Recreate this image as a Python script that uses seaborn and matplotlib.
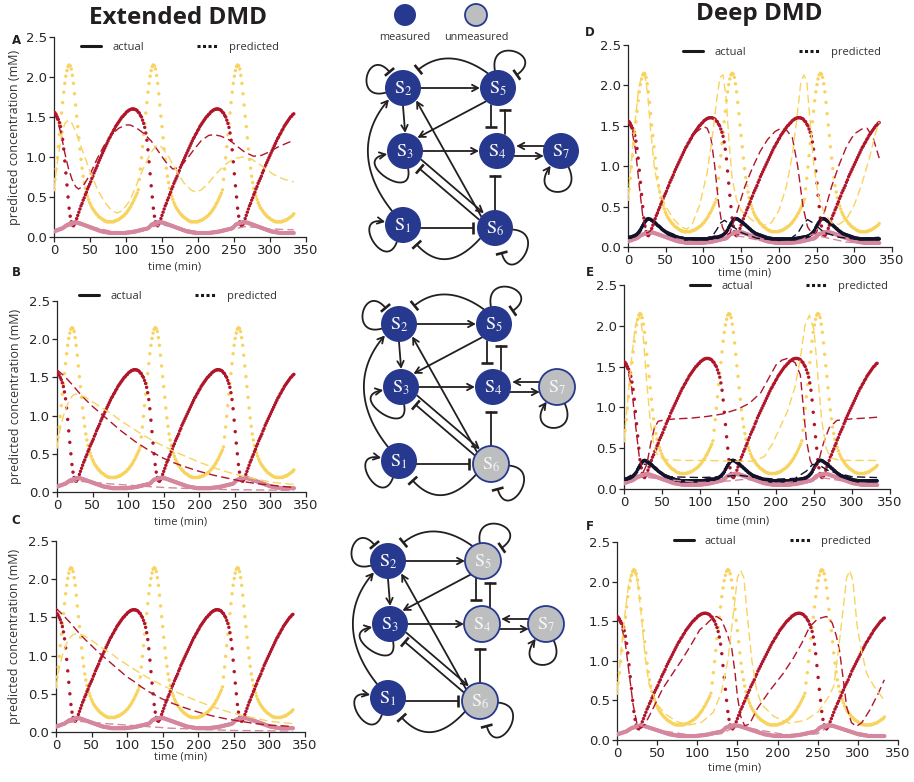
import numpy as np
import seaborn as sns
import matplotlib.pyplot as plt
from matplotlib.lines import Line2D
from matplotlib.patches import Circle

time = np.arange(0, 334.5, 1.5)

red_c1 = [1.56, 1.55, 1.53, 1.50, 1.47, 1.43, 1.38, 1.31, 1.22, 1.10,
          0.95, 0.80, 0.65, 0.50, 0.36, 0.26, 0.19, 0.15, 0.14, 0.16,
          0.19, 0.23, 0.27, 0.31, 0.35, 0.39, 0.42, 0.46, 0.49, 0.53,
          0.56, 0.60, 0.63, 0.66, 0.69, 0.73, 0.76, 0.80, 0.83, 0.86,
          0.89, 0.93, 0.96, 0.99, 1.02, 1.05, 1.08, 1.11, 1.14, 1.17,
          1.20, 1.23, 1.25, 1.28, 1.30, 1.33, 1.35, 1.38, 1.40, 1.42,
          1.44, 1.46, 1.48, 1.50, 1.51, 1.53, 1.54, 1.56, 1.57, 1.58,
          1.59, 1.595, 1.60, 1.60, 1.60, 1.595, 1.59, 1.58]
red_c2 = [1.56, 1.55, 1.52, 1.50, 1.46, 1.42, 1.37, 1.30, 1.21, 1.09,
          0.94, 0.79, 0.64, 0.50, 0.36, 0.26, 0.19, 0.15, 0.14, 0.16,
          0.19, 0.23, 0.27, 0.31, 0.35, 0.39, 0.42, 0.46, 0.49, 0.53,
          0.56, 0.60, 0.63, 0.67, 0.70, 0.73, 0.76, 0.80, 0.83, 0.87,
          0.90, 0.93, 0.96, 0.99, 1.02, 1.05, 1.08, 1.11, 1.14, 1.17,
          1.20, 1.23, 1.25, 1.28, 1.30, 1.33, 1.35, 1.38, 1.40, 1.42,
          1.44, 1.46, 1.48, 1.50, 1.51, 1.53, 1.54, 1.56, 1.57, 1.58,
          1.59, 1.595, 1.60, 1.60, 1.60, 1.595, 1.59, 1.58]
red_c3 = [1.56, 1.55, 1.52, 1.50, 1.46, 1.42, 1.37, 1.30, 1.21, 1.09,
          0.94, 0.79, 0.64, 0.50, 0.36, 0.26, 0.19, 0.15, 0.14, 0.16,
          0.19, 0.23, 0.27, 0.31, 0.35, 0.39, 0.42, 0.46, 0.49, 0.53,
          0.56, 0.60, 0.63, 0.67, 0.70, 0.73, 0.76, 0.80, 0.83, 0.87,
          0.90, 0.93, 0.96, 0.99, 1.02, 1.05, 1.08, 1.11, 1.14, 1.17,
          1.20, 1.23, 1.25, 1.28, 1.30, 1.33, 1.35, 1.38, 1.40, 1.42,
          1.44, 1.46, 1.48, 1.50, 1.51, 1.53, 1.54]

yellow_c1 = [0.59, 0.72, 0.85, 0.99, 1.13, 1.28, 1.42, 1.55, 1.68, 1.81,
             1.92, 2.01, 2.08, 2.13, 2.15, 2.14, 2.10, 2.02, 1.92, 1.79,
             1.65, 1.51, 1.38, 1.24, 1.10, 0.97, 0.86, 0.76, 0.68, 0.61,
             0.55, 0.51, 0.47, 0.43, 0.40, 0.37, 0.35, 0.33, 0.31, 0.29,
             0.28, 0.26, 0.25, 0.24, 0.23, 0.22, 0.21, 0.20, 0.20, 0.19,
             0.19, 0.19, 0.19, 0.19, 0.19, 0.19, 0.20, 0.20, 0.21, 0.21,
             0.22, 0.23, 0.24, 0.25, 0.26, 0.27, 0.29, 0.30, 0.32, 0.34,
             0.36, 0.38, 0.41, 0.43, 0.46, 0.49, 0.52, 0.55]
yellow_c2 = [0.59, 0.72, 0.85, 0.99, 1.13, 1.28, 1.42, 1.55, 1.68, 1.81,
             1.92, 2.01, 2.08, 2.13, 2.15, 2.14, 2.10, 2.02, 1.92, 1.79,
             1.65, 1.51, 1.38, 1.24, 1.10, 0.97, 0.86, 0.76, 0.68, 0.61,
             0.55, 0.51, 0.47, 0.43, 0.40, 0.37, 0.35, 0.33, 0.31, 0.29,
             0.28, 0.26, 0.25, 0.24, 0.23, 0.22, 0.21, 0.20, 0.20, 0.19,
             0.19, 0.19, 0.19, 0.19, 0.19, 0.19, 0.20, 0.20, 0.21, 0.21,
             0.22, 0.23, 0.24, 0.25, 0.26, 0.27, 0.29, 0.30, 0.32, 0.34,
             0.36, 0.38, 0.41, 0.43, 0.46, 0.49, 0.52, 0.55]
yellow_c3 = [0.59, 0.72, 0.85, 0.99, 1.13, 1.28, 1.42, 1.55, 1.68, 1.81,
             1.92, 2.01, 2.08, 2.13, 2.15, 2.14, 2.10, 2.02, 1.92, 1.79,
             1.65, 1.51, 1.38, 1.24, 1.10, 0.97, 0.86, 0.76, 0.68, 0.61,
             0.55, 0.51, 0.47, 0.43, 0.40, 0.37, 0.35, 0.33, 0.31, 0.29,
             0.28, 0.26, 0.25, 0.24, 0.23, 0.22, 0.21, 0.20, 0.20, 0.19,
             0.19, 0.19, 0.19, 0.19, 0.19, 0.19, 0.20, 0.20, 0.21, 0.21,
             0.22, 0.23, 0.24, 0.25, 0.26, 0.27, 0.29]

pink_c1 = [0.070, 0.075, 0.080, 0.085, 0.090, 0.095, 0.100, 0.105, 0.110, 0.120,
           0.130, 0.140, 0.150, 0.155, 0.160, 0.165, 0.170, 0.175, 0.180, 0.180,
           0.180, 0.180, 0.180, 0.175, 0.170, 0.165, 0.160, 0.155, 0.150, 0.145,
           0.140, 0.135, 0.130, 0.125, 0.120, 0.115, 0.110, 0.105, 0.100, 0.095,
           0.090, 0.085, 0.080, 0.075, 0.070, 0.070, 0.065, 0.065, 0.060, 0.060,
           0.055, 0.055, 0.050, 0.050, 0.050, 0.050, 0.050, 0.050, 0.050, 0.050,
           0.050, 0.050, 0.050, 0.050, 0.050, 0.050, 0.050, 0.055, 0.055, 0.055,
           0.060, 0.060, 0.060, 0.065, 0.065, 0.070, 0.070, 0.075]
pink_c2 = [0.080, 0.080, 0.085, 0.090, 0.090, 0.095, 0.100, 0.100, 0.105, 0.110,
           0.120, 0.135, 0.150, 0.160, 0.165, 0.170, 0.175, 0.180, 0.180, 0.185,
           0.185, 0.185, 0.180, 0.180, 0.175, 0.170, 0.165, 0.160, 0.155, 0.150,
           0.145, 0.140, 0.135, 0.130, 0.125, 0.120, 0.115, 0.110, 0.105, 0.100,
           0.095, 0.090, 0.085, 0.080, 0.075, 0.070, 0.070, 0.065, 0.065, 0.060,
           0.060, 0.055, 0.055, 0.050, 0.050, 0.050, 0.050, 0.050, 0.050, 0.050,
           0.050, 0.050, 0.050, 0.050, 0.050, 0.050, 0.050, 0.055, 0.055, 0.055,
           0.060, 0.060, 0.060, 0.065, 0.065, 0.070, 0.070, 0.075]
pink_c3 = [0.080, 0.080, 0.085, 0.090, 0.090, 0.095, 0.100, 0.100, 0.105, 0.110,
           0.120, 0.135, 0.150, 0.160, 0.165, 0.170, 0.175, 0.180, 0.180, 0.185,
           0.185, 0.185, 0.180, 0.180, 0.175, 0.170, 0.165, 0.160, 0.155, 0.150,
           0.145, 0.140, 0.135, 0.130, 0.125, 0.120, 0.115, 0.110, 0.105, 0.100,
           0.095, 0.090, 0.085, 0.080, 0.075, 0.070, 0.070, 0.065, 0.065, 0.060,
           0.060, 0.055, 0.055, 0.050, 0.050, 0.050, 0.050, 0.050, 0.050, 0.050,
           0.050, 0.050, 0.050, 0.050, 0.050, 0.050, 0.050]

black_c1 = [0.120, 0.120, 0.120, 0.125, 0.130, 0.135, 0.140, 0.150, 0.160, 0.175,
            0.190, 0.210, 0.240, 0.265, 0.290, 0.310, 0.330, 0.345, 0.350, 0.345,
            0.340, 0.330, 0.320, 0.310, 0.300, 0.285, 0.270, 0.260, 0.250, 0.235,
            0.220, 0.210, 0.200, 0.190, 0.180, 0.170, 0.160, 0.155, 0.150, 0.145,
            0.140, 0.135, 0.130, 0.125, 0.120, 0.115, 0.110, 0.110, 0.110, 0.105,
            0.100, 0.100, 0.100, 0.100, 0.100, 0.100, 0.100, 0.100, 0.100, 0.100,
            0.100, 0.100, 0.100, 0.100, 0.100, 0.100, 0.100, 0.100, 0.100, 0.100,
            0.100, 0.105, 0.110, 0.110, 0.110, 0.115, 0.120, 0.120]
black_c2 = [0.120, 0.120, 0.125, 0.130, 0.135, 0.140, 0.150, 0.160, 0.175, 0.190,
            0.210, 0.240, 0.265, 0.290, 0.310, 0.330, 0.345, 0.350, 0.350, 0.345,
            0.335, 0.325, 0.315, 0.305, 0.295, 0.280, 0.270, 0.255, 0.245, 0.230,
            0.220, 0.205, 0.195, 0.185, 0.175, 0.165, 0.160, 0.155, 0.150, 0.145,
            0.140, 0.135, 0.130, 0.125, 0.120, 0.115, 0.110, 0.110, 0.105, 0.105,
            0.100, 0.100, 0.100, 0.100, 0.100, 0.100, 0.100, 0.100, 0.100, 0.100,
            0.100, 0.100, 0.100, 0.100, 0.100, 0.100, 0.100, 0.100, 0.100, 0.100,
            0.105, 0.105, 0.110, 0.110, 0.115, 0.115, 0.120, 0.120]
black_c3 = [0.125, 0.125, 0.130, 0.135, 0.140, 0.150, 0.160, 0.175, 0.190, 0.210,
            0.240, 0.265, 0.290, 0.310, 0.330, 0.345, 0.350, 0.350, 0.345, 0.335,
            0.325, 0.315, 0.305, 0.295, 0.280, 0.270, 0.255, 0.245, 0.230, 0.220,
            0.205, 0.195, 0.185, 0.175, 0.165, 0.160, 0.155, 0.150, 0.145, 0.140,
            0.135, 0.130, 0.125, 0.120, 0.115, 0.110, 0.110, 0.105, 0.105, 0.100,
            0.100, 0.100, 0.100, 0.100, 0.100, 0.100, 0.100, 0.100, 0.100, 0.100,
            0.100, 0.100, 0.100, 0.100, 0.100, 0.100, 0.100]

red_actual = red_c1 + red_c2 + red_c3
yellow_actual = yellow_c1 + yellow_c2 + yellow_c3
pink_actual = pink_c1 + pink_c2 + pink_c3
black_actual = black_c1 + black_c2 + black_c3

# ---- predicted trajectories, Extended DMD ----
a_red_t = [0, 5, 10, 15, 20, 25, 30, 34, 40, 50, 60, 70, 80, 90, 100, 106, 115, 124, 135, 145,
           155, 165, 175, 185, 195, 205, 215, 222, 232, 244, 255, 265, 277, 288, 298, 310, 320, 333]
a_red = [1.55, 1.45, 1.28, 1.05, 0.86, 0.72, 0.63, 0.60, 0.63, 0.78, 0.98, 1.15, 1.28, 1.36, 1.40, 1.40,
         1.36, 1.30, 1.20, 1.07, 0.94, 0.85, 0.87, 0.98, 1.10, 1.21, 1.27, 1.28, 1.26, 1.21,
         1.13, 1.06, 1.01, 1.02, 1.06, 1.12, 1.16, 1.21]
a_yel_t = [0, 5, 10, 15, 20, 25, 30, 40, 50, 60, 70, 80, 88, 95, 105, 115, 125, 135, 143, 150,
           160, 170, 180, 190, 197, 205, 215, 225, 240, 250, 262, 275, 290, 305, 320, 333]
a_yel = [0.60, 0.95, 1.25, 1.42, 1.46, 1.42, 1.32, 1.07, 0.82, 0.60, 0.44, 0.33, 0.30, 0.33, 0.45, 0.66,
         0.88, 1.06, 1.15, 1.12, 0.99, 0.83, 0.68, 0.59, 0.56, 0.59, 0.68, 0.79, 0.92, 0.98,
         1.00, 0.97, 0.88, 0.78, 0.72, 0.69]
a_pink_t = [0, 15, 30, 45, 60, 80, 100, 120, 135, 150, 170, 190, 210, 230, 250, 265, 280, 300, 333]
a_pink = [0.07, 0.12, 0.16, 0.14, 0.11, 0.07, 0.06, 0.08, 0.13, 0.15, 0.12, 0.08, 0.06, 0.07,
          0.10, 0.13, 0.12, 0.10, 0.09]

b_red_t = [0, 10, 20, 30, 40, 50, 60, 70, 80, 90, 100, 110, 120, 130, 140, 150,
           165, 180, 200, 220, 240, 260, 280, 300, 320, 333]
b_red = [1.60, 1.52, 1.42, 1.31, 1.21, 1.12, 1.04, 0.96, 0.88, 0.80, 0.73, 0.66, 0.60, 0.54, 0.49, 0.44,
         0.38, 0.33, 0.27, 0.22, 0.18, 0.14, 0.11, 0.09, 0.07, 0.06]
b_yel_t = [0, 5, 10, 15, 20, 25, 30, 40, 50, 60, 70, 80, 90, 100, 110, 120, 135, 150, 165, 180,
           200, 220, 240, 260, 280, 300, 320, 333]
b_yel = [0.60, 0.85, 1.03, 1.15, 1.24, 1.28, 1.28, 1.24, 1.18, 1.12, 1.06, 1.00, 0.93, 0.87, 0.81, 0.75,
         0.67, 0.60, 0.53, 0.47, 0.39, 0.32, 0.26, 0.21, 0.17, 0.13, 0.11, 0.10]
b_pink_t = [0, 15, 30, 45, 70, 100, 130, 160, 200, 250, 300, 333]
b_pink = [0.07, 0.12, 0.14, 0.13, 0.11, 0.09, 0.07, 0.055, 0.04, 0.03, 0.025, 0.02]

c_red = [1.62, 1.53, 1.43, 1.32, 1.22, 1.13, 1.04, 0.96, 0.88, 0.80, 0.72, 0.66, 0.59, 0.53, 0.48, 0.43,
         0.37, 0.32, 0.26, 0.21, 0.17, 0.14, 0.11, 0.09, 0.08, 0.07]
c_yel = [0.60, 0.86, 1.04, 1.16, 1.24, 1.28, 1.29, 1.26, 1.20, 1.13, 1.07, 1.01, 0.94, 0.88, 0.82, 0.76,
         0.68, 0.61, 0.54, 0.48, 0.40, 0.33, 0.27, 0.22, 0.18, 0.14, 0.12, 0.11]
c_pink = [0.07, 0.12, 0.14, 0.13, 0.11, 0.09, 0.07, 0.05, 0.035, 0.02, 0.015, 0.01]

# ---- predicted trajectories, Deep DMD ----
d_red_t = [0, 5, 10, 15, 20, 25, 30, 40, 50, 60, 70, 80, 90, 100, 105, 110, 115, 120, 125, 130,
           135, 145, 155, 165, 175, 185, 195, 203, 210, 218, 225, 232, 238, 245, 250, 260, 270, 280, 290, 300,
           310, 317, 325, 333]
d_red = [1.55, 1.45, 1.20, 0.75, 0.35, 0.17, 0.20, 0.45, 0.68, 0.90, 1.10, 1.28, 1.42, 1.49, 1.47, 1.35,
         1.00, 0.55, 0.25, 0.15, 0.17, 0.45, 0.75, 0.98, 1.18, 1.33, 1.43, 1.47, 1.45, 1.35,
         1.00, 0.50, 0.25, 0.15, 0.18, 0.42, 0.75, 1.02, 1.25, 1.40, 1.46, 1.47, 1.35, 1.10]
d_yel_t = [0, 5, 10, 14, 18, 22, 26, 30, 35, 40, 50, 60, 70, 78, 85, 95, 105, 112, 118, 122,
           126, 130, 134, 138, 144, 150, 165, 180, 190, 200, 210, 218, 224, 229, 233, 237, 241, 246, 252, 260,
           270, 280, 290, 300, 310, 320, 328, 333]
d_yel = [0.60, 1.10, 1.60, 1.95, 2.12, 2.13, 1.90, 1.45, 0.98, 0.74, 0.50, 0.35, 0.25, 0.22, 0.28, 0.52,
         0.92, 1.38, 1.85, 2.10, 2.13, 1.85, 1.30, 0.85, 0.58, 0.45, 0.33, 0.27, 0.30, 0.45,
         0.75, 1.15, 1.60, 2.03, 2.13, 2.05, 1.60, 1.05, 0.65, 0.42, 0.30, 0.28, 0.35, 0.52,
         0.78, 1.10, 1.40, 1.55]
d_blk_t = [0, 10, 18, 24, 28, 35, 50, 70, 90, 105, 113, 118, 123, 128, 135, 150, 170, 200, 215, 225,
           232, 238, 245, 260, 280, 300, 333]
d_blk = [0.12, 0.15, 0.25, 0.32, 0.34, 0.30, 0.20, 0.12, 0.09, 0.10, 0.15, 0.22, 0.30, 0.33, 0.28, 0.18,
         0.11, 0.08, 0.10, 0.17, 0.28, 0.34, 0.30, 0.18, 0.12, 0.10, 0.12]
d_pink_t = [0, 15, 30, 50, 80, 110, 125, 135, 150, 180, 210, 230, 245, 260, 290, 333]
d_pink = [0.07, 0.13, 0.17, 0.13, 0.07, 0.05, 0.09, 0.15, 0.13, 0.07, 0.05, 0.09, 0.16, 0.12, 0.06, 0.04]

e_red_t = [0, 5, 10, 15, 20, 25, 30, 35, 40, 45, 55, 70, 90, 110, 130, 150, 165, 180, 190, 200,
           208, 215, 225, 232, 236, 240, 245, 250, 255, 262, 270, 280, 300, 320, 333]
e_red = [1.55, 1.45, 1.25, 0.80, 0.40, 0.20, 0.30, 0.55, 0.75, 0.83, 0.85, 0.86, 0.87, 0.89, 0.92, 0.98,
         1.05, 1.18, 1.35, 1.52, 1.58, 1.60, 1.55, 1.40, 1.00, 0.60, 0.35, 0.25, 0.30, 0.55,
         0.75, 0.84, 0.86, 0.87, 0.88]
e_yel_t = [0, 5, 10, 15, 20, 25, 30, 35, 40, 45, 55, 80, 110, 140, 170, 185, 195, 205, 215, 225,
           232, 238, 244, 250, 255, 260, 266, 272, 285, 310, 333]
e_yel = [0.60, 1.10, 1.60, 2.00, 2.15, 1.90, 1.30, 0.80, 0.50, 0.40, 0.36, 0.35, 0.35, 0.34, 0.34, 0.40,
         0.55, 0.75, 0.95, 1.25, 1.60, 2.00, 2.13, 1.95, 1.40, 0.85, 0.50, 0.38, 0.35, 0.35, 0.35]
e_blk_t = [0, 15, 25, 32, 40, 60, 100, 130, 150, 175, 200, 225, 240, 248, 255, 270, 300, 333]
e_blk = [0.12, 0.20, 0.30, 0.31, 0.24, 0.15, 0.14, 0.15, 0.17, 0.14, 0.12, 0.13, 0.22, 0.30, 0.30, 0.22,
         0.15, 0.14]
e_pink_t = [0, 25, 50, 100, 140, 160, 200, 240, 260, 300, 333]
e_pink = [0.07, 0.15, 0.12, 0.08, 0.10, 0.12, 0.07, 0.10, 0.14, 0.08, 0.06]

f_red_t = [0, 5, 10, 15, 20, 25, 30, 35, 45, 57, 70, 80, 91, 103, 110, 118, 124, 130, 137, 143,
           147, 150, 154, 159, 165, 175, 190, 207, 220, 230, 240, 250, 261, 268, 273, 277, 282, 286, 292, 298,
           305, 315, 325, 333]
f_red = [1.55, 1.45, 1.25, 0.85, 0.45, 0.20, 0.15, 0.20, 0.40, 0.65, 0.85, 1.00, 1.18, 1.39, 1.45, 1.53,
         1.56, 1.52, 1.35, 1.15, 0.85, 0.55, 0.30, 0.18, 0.20, 0.40, 0.62, 0.84, 1.04, 1.22,
         1.43, 1.53, 1.56, 1.48, 1.32, 1.14, 0.75, 0.42, 0.22, 0.17, 0.22, 0.38, 0.58, 0.76]
f_yel_t = [0, 5, 10, 15, 20, 25, 30, 35, 40, 50, 60, 75, 90, 105, 120, 130, 138, 145, 150, 154,
           158, 163, 168, 174, 180, 195, 215, 235, 250, 262, 270, 276, 282, 286, 290, 294, 299, 305, 311, 320,
           333]
f_yel = [0.60, 1.10, 1.60, 2.00, 2.15, 2.05, 1.60, 1.05, 0.70, 0.45, 0.33, 0.23, 0.19, 0.22, 0.35, 0.60,
         1.00, 1.60, 2.05, 2.14, 2.05, 1.50, 1.00, 0.63, 0.45, 0.30, 0.21, 0.25, 0.35, 0.52,
         0.68, 1.15, 1.68, 2.05, 2.14, 2.00, 1.45, 1.10, 0.84, 0.68, 0.50]
f_pink_t = [0, 30, 60, 100, 130, 150, 180, 220, 250, 265, 300, 333]
f_pink = [0.07, 0.18, 0.11, 0.05, 0.08, 0.18, 0.12, 0.05, 0.08, 0.18, 0.09, 0.05]

RED = '#b0152a'
YELLOW = '#f8d35e'
PINK = '#d5879e'
NAVY = '#12122a'
INK = '#231f20'
NODE_BLUE = '#27398e'
NODE_GREY = '#bcbec0'

sns.set_theme(style='ticks')
plt.rcParams['font.family'] = ['DejaVu Sans']
plt.rcParams['mathtext.fontset'] = 'stix'

W, H = 914, 782
fig = plt.figure(figsize=(W / 100, H / 100), dpi=100)


def rect(l, r, t, b):
    return [l / W, 1 - b / H, (r - l) / W, (b - t) / H]


def draw_panel(box, preds, black, legend_at, ylabel, xlab_pos):
    ax = fig.add_axes(rect(*box))
    sns.scatterplot(x=time, y=yellow_actual, ax=ax, s=6, color=YELLOW, edgecolor='none', zorder=3)
    sns.scatterplot(x=time, y=red_actual, ax=ax, s=6, color=RED, edgecolor='none', zorder=3)
    sns.scatterplot(x=time, y=pink_actual, ax=ax, s=9, color=PINK, edgecolor='none', zorder=3)
    if black:
        sns.scatterplot(x=time, y=black_actual, ax=ax, s=7, color=NAVY, edgecolor='none', zorder=3)
    for t, v, col in preds:
        sns.lineplot(x=t, y=v, ax=ax, color=col, lw=1.0, linestyle=(0, (6, 3)),
                     estimator=None, sort=False, errorbar=None, zorder=4)
    ax.set_xlim(0, 350)
    ax.set_ylim(0, 2.5)
    ax.set_xticks(range(0, 351, 50))
    ax.set_yticks([0, 0.5, 1.0, 1.5, 2.0, 2.5])
    ax.set_yticklabels(['0.0', '0.5', '1.0', '1.5', '2.0', '2.5'])
    ax.tick_params(labelsize=9.5, length=3.5, width=0.9, colors='#262626', pad=1.5)
    for sp in ax.spines.values():
        sp.set_linewidth(0.9)
        sp.set_color('#262626')
    sns.despine(ax=ax)
    ax.set_xlabel('time (min)', family='Open Sans', fontsize=8, color='#333333', va='center')
    ax.xaxis.set_label_coords(*xlab_pos)
    if ylabel:
        ax.set_ylabel('predicted concentration (mM)', family='Open Sans', fontsize=9, color='#333333')
        ax.yaxis.set_label_coords(ylabel, 0.5)
    else:
        ax.set_ylabel('')
    if legend_at is not None:
        handles = [Line2D([0], [0], color='#1a1a1a', lw=2.2),
                   Line2D([0], [0], color='#1a1a1a', lw=2.2, linestyle=(0, (1, 0.8)))]
        ax.legend(handles, ['actual', 'predicted'], loc='center', bbox_to_anchor=legend_at, ncol=2,
                  frameon=False, handlelength=1.8, handletextpad=1.0, columnspacing=4.8,
                  prop={'family': 'Open Sans', 'size': 8}, labelcolor='#333333')
    return ax


draw_panel((54, 306, 37, 237), [(a_red_t, a_red, RED), (a_yel_t, a_yel, YELLOW), (a_pink_t, a_pink, PINK)],
           False, (0.5, 0.95), -0.13, (0.48, -0.15))
draw_panel((57, 306, 301, 492), [(b_red_t, b_red, RED), (b_yel_t, b_yel, YELLOW), (b_pink_t, b_pink, PINK)],
           False, (0.486, 1.022), -0.141, (0.498, -0.155))
draw_panel((56, 305, 541, 732), [(b_red_t, c_red, RED), (b_yel_t, c_yel, YELLOW), (b_pink_t, c_pink, PINK)],
           False, None, -0.141, (0.502, -0.13))
draw_panel((628, 892, 45, 247), [(d_red_t, d_red, RED), (d_yel_t, d_yel, YELLOW), (d_blk_t, d_blk, NAVY),
                                 (d_pink_t, d_pink, PINK)],
           True, (0.583, 0.965), None, (0.443, -0.13))
draw_panel((624, 890, 285, 489), [(e_red_t, e_red, RED), (e_yel_t, e_yel, YELLOW), (e_blk_t, e_blk, NAVY),
                                  (e_pink_t, e_pink, PINK)],
           True, (0.62, 0.995), None, (0.444, -0.157))
draw_panel((617, 898, 542, 740), [(f_red_t, f_red, RED), (f_yel_t, f_yel, YELLOW), (f_pink_t, f_pink, PINK)],
           False, (0.553, 1.005), None, (0.42, -0.14))

# ---- overlay in pixel coordinates: titles, letters, network diagrams ----
net = fig.add_axes([0, 0, 1, 1], facecolor='none')
net.set_xlim(0, W)
net.set_ylim(H, 0)
net.set_axis_off()

net.text(178, 18, 'Extended DMD', ha='center', va='center', family='Open Sans', weight='bold',
         fontsize=17.5, color='#231f20')
net.text(759, 14, 'Deep DMD', ha='center', va='center', family='Open Sans', weight='bold',
         fontsize=17.5, color='#231f20')
for letter, x, y in [('A', 16, 40), ('B', 16, 272), ('C', 16, 520),
                     ('D', 590, 33), ('E', 590, 273), ('F', 590, 527)]:
    net.text(x, y, letter, ha='center', va='center', weight='bold', fontsize=8.5, color='#231f20')

R = 18
LAYOUT = {'S1': (0, 137), 'S2': (0, 0), 'S3': (2, 63), 'S4': (94, 63),
          'S5': (95, 0), 'S6': (92, 140), 'S7': (158, 63)}


def on(c, ang, r=R):
    a = np.radians(ang)
    return np.array([c[0] + r * np.cos(a), c[1] - r * np.sin(a)])


def unit(ang):
    a = np.radians(ang)
    return np.array([np.cos(a), -np.sin(a)])


def tip(end, d, kind):
    d = d / np.hypot(*d)
    n = np.array([-d[1], d[0]])
    if kind == 'arrow':
        p1 = end - 6 * d + 3.2 * n
        p2 = end - 6 * d - 3.2 * n
        net.plot([p1[0], end[0], p2[0]], [p1[1], end[1], p2[1]], color=INK, lw=1.3, zorder=2)
    else:
        net.plot([end[0] - 6 * n[0], end[0] + 6 * n[0]], [end[1] - 6 * n[1], end[1] + 6 * n[1]],
                 color=INK, lw=1.9, solid_capstyle='butt', zorder=2)


def edge(pts, kind):
    pts = [np.asarray(p, float) for p in pts]
    if len(pts) == 2:
        xy = np.array(pts)
        d = pts[1] - pts[0]
    else:
        s = np.linspace(0, 1, 60)[:, None]
        p0, p1, p2, p3 = pts
        xy = (1 - s) ** 3 * p0 + 3 * (1 - s) ** 2 * s * p1 + 3 * (1 - s) * s ** 2 * p2 + s ** 3 * p3
        d = p3 - p2
    net.plot(xy[:, 0], xy[:, 1], color=INK, lw=1.3, zorder=2)
    tip(pts[-1], d, kind)


def loop(c, a0, a1, L, kind, gap=2):
    p0 = on(c, a0)
    p3 = on(c, a1, R + gap)
    edge([p0, p0 + L * unit(a0), p3 + L * unit(a1), p3], kind)


def node(p, label, grey):
    net.add_patch(Circle(p, R, fc=NODE_GREY if grey else NODE_BLUE, ec=NODE_BLUE,
                         lw=1.3 if grey else 0, zorder=5))
    if label:
        net.text(p[0], p[1] + 1, r'$\mathrm{S}_{%s}$' % label, ha='center', va='center',
                 fontsize=13, color='#f4f4f4', zorder=6)


def draw_network(origin, grey):
    c = {k: np.array([origin[0] + x, origin[1] + y], float) for k, (x, y) in LAYOUT.items()}
    s1, s2, s3, s4, s5, s6, s7 = (c[k] for k in ['S1', 'S2', 'S3', 'S4', 'S5', 'S6', 'S7'])
    loop(s2, 195, 130, 34, 'bar', 3)
    loop(s5, 100, 35, 36, 'bar', 5)
    loop(s3, 280, 190, 36, 'arrow', 2)
    loop(s7, 295, 235, 38, 'arrow', 2)
    loop(s1, 250, 170, 34, 'arrow', 2)
    loop(s6, 355, 285, 36, 'bar', 8)
    edge([on(s2, 0), on(s5, 180, R + 2)], 'arrow')
    edge([on(s2, 270), on(s3, 90, R + 2)], 'arrow')
    edge([on(s5, 228), on(s3, 45, R + 2)], 'arrow')
    edge([(s4[0] - 6, s5[1] + R - 1), (s4[0] - 6, s4[1] - R - 6)], 'bar')
    edge([(s4[0] + 8, s4[1] - R + 1), (s4[0] + 8, s5[1] + R + 4)], 'bar')
    edge([on(s3, 0), on(s4, 180, R + 2)], 'arrow')
    h = np.sqrt(R ** 2 - 25)
    edge([(s7[0] - h, s7[1] - 5), (s4[0] + h + 4, s4[1] - 5)], 'arrow')
    edge([(s4[0] + h, s4[1] + 5), (s7[0] - h - 2, s7[1] + 5)], 'arrow')
    u = (s6 - s3) / np.hypot(*(s6 - s3))
    n = np.array([u[1], -u[0]])
    edge([s3 + R * u + 4 * n, s6 - (R + 2) * u + 4 * n], 'arrow')
    edge([s6 - R * u - 4 * n, s3 + (R + 5) * u - 4 * n], 'bar')
    edge([on(s6, 140), on(s2, -45, R + 2)], 'arrow')
    edge([on(s6, 90), (s6[0], s4[1] + R + 7)], 'bar')
    edge([(s1[0] + R - 1, s1[1] + 3), (s6[0] - R - 4, s1[1] + 3)], 'bar')
    p0, p3 = on(s1, 128), on(s2, 220, R + 2)
    edge([p0, p0 + (-28, -35), p3 + (-30, 35), p3], 'arrow')
    p0, p3 = on(s5, 125), on(s2, 50, R + 6)
    edge([p0, p0 + (-22, -16), p3 + (22, -18), p3], 'bar')
    p0, p3 = on(s6, 215), on(s1, -55, R + 6)
    edge([p0, p0 + (-20, 22), p3 + (22, 24), p3], 'bar')
    for k, p in c.items():
        node(p, k[1], k in grey)


draw_network((403, 88), [])
draw_network((399, 324), ['S6', 'S7'])
draw_network((388, 561), ['S4', 'S5', 'S6', 'S7'])

# measured / unmeasured key
net.add_patch(Circle((405, 15), 11, fc=NODE_BLUE, ec='none', zorder=5))
net.add_patch(Circle((476, 15), 11, fc=NODE_GREY, ec=NODE_BLUE, lw=1.3, zorder=5))
net.text(405, 37, 'measured', ha='center', va='center', family='Open Sans', fontsize=7.8, color='#333333')
net.text(476, 37, 'unmeasured', ha='center', va='center', family='Open Sans', fontsize=7.8, color='#333333')

fig.savefig('out.png', dpi=100)
